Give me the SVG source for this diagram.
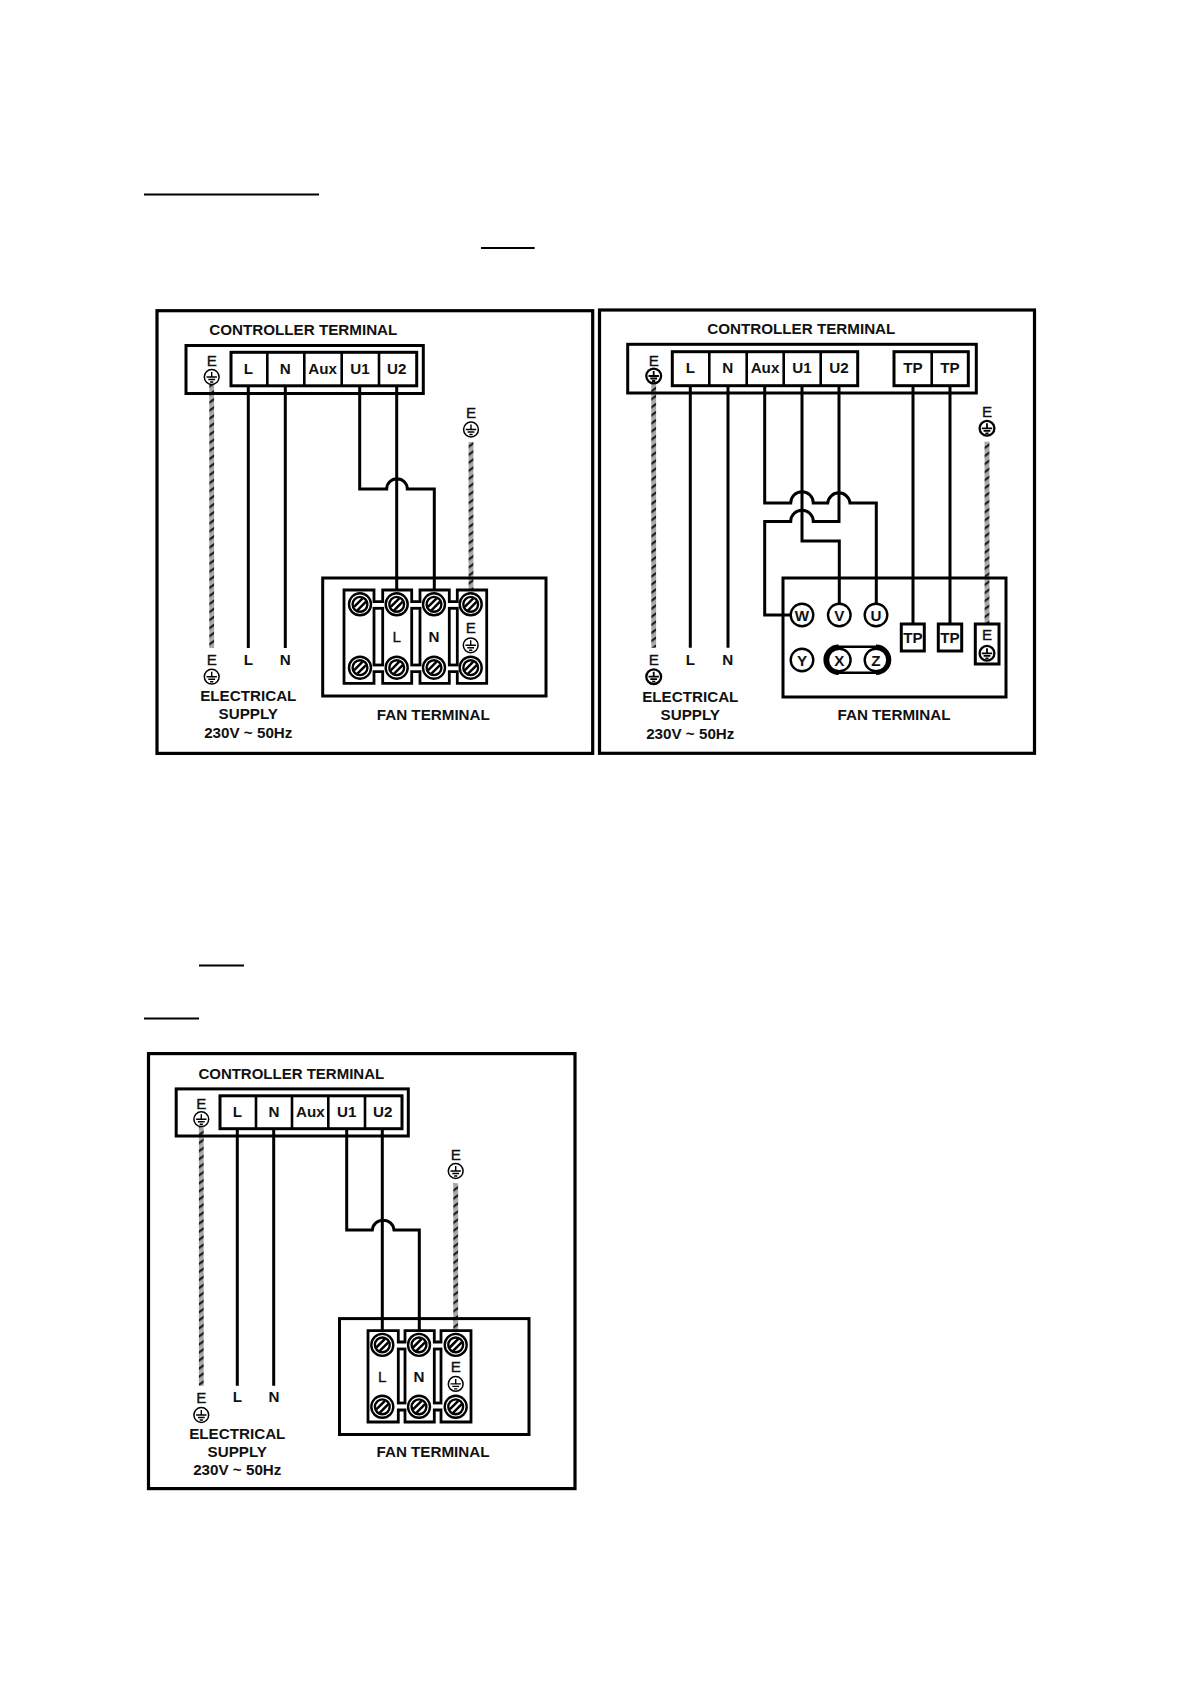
<svg xmlns="http://www.w3.org/2000/svg" width="1191" height="1684" viewBox="0 0 1191 1684">
<style>
text{font-family:"Liberation Sans",Arial,sans-serif;font-weight:700;font-size:15.2px;fill:#111;text-anchor:middle}
text.thin{font-weight:400;stroke:#111;stroke-width:.35}
.box{fill:none;stroke:#000;stroke-width:3}
.frame{fill:#fff;stroke:#000;stroke-width:3.2}
.term{fill:#fff;stroke:#000;stroke-width:3}
.div{stroke:#000;stroke-width:2.6;fill:none}
.wire{fill:none;stroke:#000;stroke-width:3;stroke-linejoin:miter}
.tw{fill:none;stroke:url(#rope);stroke-width:4.8}
.ul{stroke:#000;stroke-width:1.8}
.blk{fill:#fff;stroke:#000;stroke-width:2.8}
.circ{fill:#fff;stroke:#000;stroke-width:2.4}
</style>
<defs>
<pattern id="rope" patternUnits="userSpaceOnUse" width="6" height="6.6" patternTransform="rotate(-35)"><rect width="6" height="6.6" fill="#a8a8a8"/><rect width="6" height="2.2" fill="#1c1c1c"/></pattern>
<g id="earth"><circle r="7.4" fill="#fff" stroke="#000" stroke-width="1.5"/><path d="M0-5V0M-5.2 0H5.2M-3.4 2.5H3.4M-1.6 5H1.6" stroke="#000" stroke-width="1.4" fill="none"/></g>
<g id="earthB"><circle r="7.4" fill="#fff" stroke="#000" stroke-width="2.3"/><path d="M0-5V0M-5.2 0H5.2M-3.4 2.5H3.4M-1.6 5H1.6" stroke="#000" stroke-width="1.8" fill="none"/></g>
<g id="screw"><circle r="11" fill="#fff" stroke="#000" stroke-width="2.4"/><circle r="7.4" fill="#fff" stroke="#000" stroke-width="2.4"/><path d="M-6 2.6L2.6-6M-2.6 6L6-2.6" stroke="#000" stroke-width="2.5" fill="none"/></g>
</defs>
<rect width="1191" height="1684" fill="#fff"/>
<g id="rules">
<line class="ul" x1="144" y1="194.5" x2="319" y2="194.5"/>
<line class="ul" x1="481" y1="248" x2="534.7" y2="248"/>
<line class="ul" x1="199" y1="965.5" x2="244" y2="965.5"/>
<line class="ul" x1="144" y1="1018.5" x2="199" y2="1018.5"/>
</g>
<g id="frames">
<rect id="frame-1" class="frame" x="157" y="310.7" width="435.7" height="442.7"/>
<rect id="frame-2" class="frame" x="599.5" y="310" width="435" height="443.3"/>
<rect id="frame-3" class="frame" x="148.5" y="1053.6" width="426.5" height="435"/>
</g>
<g id="connectors">
<path class="tw" d="M211.7 384V648"/>
<path class="wire" d="M248.3 385V648M285.3 385V648"/>
<path class="wire" d="M359.7 385V489H386.7A10.3 10.3 0 0 1 407.3 489H434.3V592M396.7 385V592"/>
<path class="tw" d="M471 442V592"/>
<path class="tw" d="M653.7 384V647.7"/>
<path class="wire" d="M690.3 385.7V647.7M728 385.7V647.7"/>
<path class="wire" d="M764.7 385.7V503H790.7A11.3 11.3 0 0 1 813.3 503H827.7A11.2 11.2 0 0 1 850 503H876.3V605"/>
<path class="wire" d="M802 385.7V541H839.3V605"/>
<path class="wire" d="M839 385.7V521.5H813.3A11.3 11.3 0 0 0 790.7 521.5H764.7V615H791"/>
<path class="wire" d="M913 385.7V625M950 385.7V625"/>
<path class="tw" d="M987 441.7V625"/>
<path class="tw" d="M201.3 1127V1385.7"/>
<path class="wire" d="M237.3 1128.7V1385.7M273.7 1128.7V1385.7"/>
<path class="wire" d="M346.7 1128.7V1230H372.3A10.9 10.9 0 0 1 394 1230H419.3V1332M382.3 1128.7V1332"/>
<path class="tw" d="M455.7 1183.3V1332"/>
</g>
<g id="controller-1">
<text x="303.3" y="335.2">CONTROLLER TERMINAL</text>
<rect class="box" x="186" y="345.5" width="237.3" height="48"/>
<rect class="term" x="231" y="352.3" width="185.7" height="33.5"/>
<path class="div" d="M267.3 352.3V385.8M304.3 352.3V385.8M341.7 352.3V385.8M379 352.3V385.8"/>
<text x="248.3" y="374.2">L</text><text x="285.3" y="374.2">N</text><text x="322.7" y="374.2">Aux</text><text x="360" y="374.2">U1</text><text x="396.7" y="374.2">U2</text>
<text class="thin" x="211.7" y="366.3">E</text><use href="#earth" x="211.7" y="377"/>
</g>
<g id="supply-1">
<text class="thin" x="211.7" y="665.3">E</text><use href="#earth" x="211.7" y="676.7"/>
<text x="248.3" y="664.6">L</text><text x="285.3" y="664.6">N</text>
<text x="248.3" y="701">ELECTRICAL</text><text x="248.3" y="719.4">SUPPLY</text><text x="248.3" y="738">230V ~ 50Hz</text>
</g>
<g id="earth-1"><text class="thin" x="471" y="418.4">E</text><use href="#earth" x="471" y="429.5"/></g>
<g id="fan-1">
<rect class="box" x="322.7" y="578" width="223.3" height="118"/>
<path class="blk" d="M344 590H374V601.7H382.7V590H411.7V601.7H420V590H449.3V601.7H457.3V590H486.7V683.3H457.3V671.7H449.3V683.3H420V671.7H411.7V683.3H382.7V671.7H374V683.3H344Z"/>
<rect class="blk" x="374" y="608.3" width="8.7" height="56.7"/><rect class="blk" x="411.7" y="608.3" width="8.3" height="56.7"/><rect class="blk" x="449.3" y="608.3" width="8" height="56.7"/>
<use href="#screw" x="360" y="604.3"/><use href="#screw" x="396.7" y="604.3"/><use href="#screw" x="434" y="604.3"/><use href="#screw" x="470.7" y="604.3"/>
<use href="#screw" x="360" y="667.7"/><use href="#screw" x="396.7" y="667.7"/><use href="#screw" x="434" y="667.7"/><use href="#screw" x="470.7" y="667.7"/>
<text class="thin" x="396.7" y="642.3">L</text><text x="434" y="642.3">N</text>
<text class="thin" x="470.7" y="632.7">E</text><use href="#earth" x="470.7" y="645.3"/>
<text x="433.3" y="720">FAN TERMINAL</text>
</g>
<g id="controller-2">
<text x="801.3" y="334.4">CONTROLLER TERMINAL</text>
<rect class="box" x="627.7" y="344.3" width="348.6" height="48.7"/>
<rect class="term" x="672.3" y="351.7" width="185.4" height="34"/>
<path class="div" d="M709.3 351.7V385.7M746.7 351.7V385.7M783.7 351.7V385.7M820.7 351.7V385.7"/>
<rect class="term" x="894" y="351.7" width="74.3" height="34"/>
<path class="div" d="M931.7 351.7V385.7"/>
<text x="690.3" y="373.4">L</text><text x="727.7" y="373.4">N</text><text x="765" y="373.4">Aux</text><text x="802" y="373.4">U1</text><text x="839" y="373.4">U2</text><text x="913" y="373.4">TP</text><text x="950" y="373.4">TP</text>
<text class="thin" x="653.7" y="366">E</text><use href="#earthB" x="653.7" y="376"/>
</g>
<g id="supply-2">
<text class="thin" x="653.7" y="665.3">E</text><use href="#earthB" x="653.7" y="676.7"/>
<text x="690.3" y="664.6">L</text><text x="727.7" y="664.6">N</text>
<text x="690.3" y="701.5">ELECTRICAL</text><text x="690.3" y="720.2">SUPPLY</text><text x="690.3" y="739.2">230V ~ 50Hz</text>
</g>
<g id="earth-2"><text class="thin" x="987" y="416.7">E</text><use href="#earthB" x="987" y="428.3"/></g>
<g id="fan-2">
<rect class="box" x="783" y="578" width="223" height="119"/>
<rect x="825.7" y="646.7" width="63.3" height="26" rx="13" fill="#fff" stroke="#000" stroke-width="2.4"/>
<path d="M838.7 646.7A13 13 0 0 0 838.7 672.7M876 646.7A13 13 0 0 1 876 672.7" fill="none" stroke="#000" stroke-width="4.6"/>
<circle class="circ" cx="802" cy="615" r="11.3"/><circle class="circ" cx="839.3" cy="615" r="11.3"/><circle class="circ" cx="876" cy="615" r="11.3"/>
<circle class="circ" cx="802" cy="660" r="11.3"/><circle class="circ" cx="839.3" cy="660" r="11.3"/><circle class="circ" cx="876" cy="660" r="11.3"/>
<text x="802" y="620.5">W</text><text x="839.3" y="620.5">V</text><text x="876" y="620.5">U</text>
<text x="802" y="665.5">Y</text><text x="839.3" y="665.5">X</text><text x="876" y="665.5">Z</text>
<rect class="term" x="901.3" y="624" width="23" height="27"/><text x="913" y="643.3">TP</text>
<rect class="term" x="938.3" y="624" width="23.4" height="27"/><text x="950" y="643.3">TP</text>
<rect class="term" x="975.3" y="624" width="23.7" height="40"/><text class="thin" x="987" y="640">E</text><use href="#earthB" x="987" y="653.3"/>
<text x="894" y="720.2">FAN TERMINAL</text>
</g>
<g id="controller-3">
<text x="291.3" y="1079.3" style="font-size:15px">CONTROLLER TERMINAL</text>
<rect class="box" x="176.2" y="1088.9" width="232.1" height="47.1"/>
<rect class="term" x="220" y="1095.8" width="182" height="32.9"/>
<path class="div" d="M256 1095.8V1128.7M292 1095.8V1128.7M328.3 1095.8V1128.7M365 1095.8V1128.7"/>
<text x="237.3" y="1117.2">L</text><text x="274" y="1117.2">N</text><text x="310.3" y="1117.2">Aux</text><text x="346.7" y="1117.2">U1</text><text x="382.7" y="1117.2">U2</text>
<text class="thin" x="201.3" y="1109.4">E</text><use href="#earth" x="201.3" y="1119.2"/>
</g>
<g id="supply-3">
<text class="thin" x="201.3" y="1402.6">E</text><use href="#earth" x="201.3" y="1415"/>
<text x="237.3" y="1402">L</text><text x="274" y="1402">N</text>
<text x="237.3" y="1438.5">ELECTRICAL</text><text x="237.3" y="1456.8">SUPPLY</text><text x="237.3" y="1475">230V ~ 50Hz</text>
</g>
<g id="earth-3"><text class="thin" x="455.7" y="1160">E</text><use href="#earth" x="455.7" y="1171"/></g>
<g id="fan-3">
<rect class="box" x="339.5" y="1318.6" width="189.5" height="115.9"/>
<path class="blk" d="M368 1330.6H398.3V1342H405V1330.6H434.3V1342H441V1330.6H471V1422H441V1410H434.3V1422H405V1410H398.3V1422H368Z"/>
<rect class="blk" x="398.3" y="1349" width="6.7" height="54"/><rect class="blk" x="434.3" y="1349" width="6.7" height="54"/>
<use href="#screw" x="382.3" y="1344.9"/><use href="#screw" x="419" y="1344.9"/><use href="#screw" x="455.7" y="1344.9"/>
<use href="#screw" x="382.3" y="1406.8"/><use href="#screw" x="419" y="1406.8"/><use href="#screw" x="455.7" y="1406.8"/>
<text class="thin" x="382.3" y="1382">L</text><text x="419" y="1382">N</text>
<text class="thin" x="455.7" y="1372">E</text><use href="#earth" x="455.7" y="1383.9"/>
<text x="433" y="1456.8">FAN TERMINAL</text>
</g>
</svg>
